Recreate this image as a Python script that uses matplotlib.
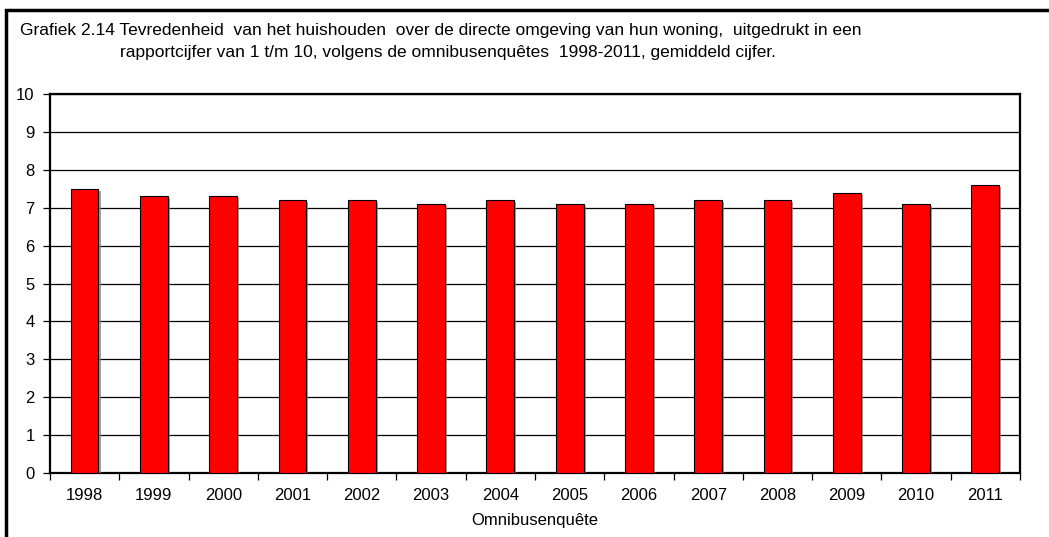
import matplotlib
matplotlib.use("Agg")
import matplotlib.pyplot as plt
import matplotlib.patheffects as pe
from matplotlib.patches import Rectangle

plt.rcParams['font.family'] = ['Liberation Sans', 'DejaVu Sans']

# gemiddeld rapportcijfer per omnibusenquête
jaren = ['1998', '1999', '2000', '2001', '2002', '2003', '2004',
         '2005', '2006', '2007', '2008', '2009', '2010', '2011']
cijfer = [7.5, 7.3, 7.3, 7.2, 7.2, 7.1, 7.2, 7.1, 7.1, 7.2, 7.2, 7.4, 7.1, 7.6]

titel1 = "Grafiek 2.14 Tevredenheid  van het huishouden  over de directe omgeving van hun woning,  uitgedrukt in een"
titel2 = "rapportcijfer van 1 t/m 10, volgens de omnibusenquêtes  1998-2011, gemiddeld cijfer."

fig = plt.figure(figsize=(10.49, 5.37), dpi=100)
ax = fig.add_axes([50/1049, 1-473/537, 970/1049, 379/537])

# kader rond de grafiek
fig.patches.append(Rectangle((6/1049, -0.1), 1.2, 1-10/537+0.1, transform=fig.transFigure,
                             fill=False, edgecolor='black', linewidth=2.5))

x = list(range(len(jaren)))
bars = ax.bar(x, cijfer, width=0.4, color='#ff0000', edgecolor='black', linewidth=0.8, zorder=3)
for b in bars:
    b.set_path_effects([pe.SimplePatchShadow(offset=(1.5, -1.5), shadow_rgbFace='#888888', alpha=0.8),
                        pe.Normal()])

ax.set_xlim(-0.5, len(jaren) - 0.5)
ax.set_ylim(0, 10)
ax.set_yticks(range(0, 11))
ax.yaxis.grid(True, color='black', linewidth=0.9, zorder=0)
ax.set_axisbelow(True)

ax.set_xticks(x)
ax.set_xticklabels(jaren, fontsize=12)
ax.set_xticks([i - 0.5 for i in range(len(jaren) + 1)], minor=True)
ax.tick_params(axis='x', which='major', length=0, pad=11)
ax.tick_params(axis='x', which='minor', length=5, width=0.9, direction='out')
ax.tick_params(axis='y', length=5, width=0.9, labelsize=12, pad=6)

for s in ax.spines.values():
    s.set_linewidth(1.6)
    s.set_color('black')

ax.set_xlabel("Omnibusenquête", fontsize=12, labelpad=7)

fig.text(20/1049, 1-30/537, titel1, fontsize=12.5, va='center', ha='left')
fig.text(120/1049, 1-52/537, titel2, fontsize=12.5, va='center', ha='left')

fig.savefig("out.png", dpi=100)
